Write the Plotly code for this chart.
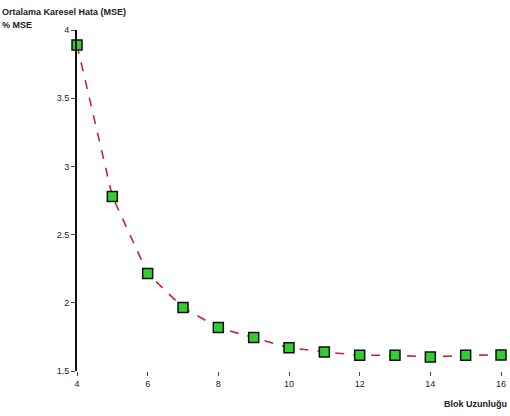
import plotly.graph_objects as go

block_length = [4, 5, 6, 7, 8, 9, 10, 11, 12, 13, 14, 15, 16]
mse = [3.89, 2.78, 2.215, 1.965, 1.818, 1.746, 1.671, 1.640, 1.615, 1.615, 1.603, 1.615, 1.618]
x_ticks = [4, 6, 8, 10, 12, 14, 16]
y_ticks = [1.5, 2, 2.5, 3, 3.5, 4]

fig = go.Figure()
fig.add_trace(go.Scatter(
    x=block_length, y=mse, mode="lines+markers",
    line=dict(color="#c0282d", width=1.6, dash="dash"),
    marker=dict(symbol="square", size=10, color="#33cc33",
                line=dict(color="#111111", width=1.5)),
    cliponaxis=False, showlegend=False,
))

fig.update_layout(
    width=510, height=416,
    margin=dict(l=77, r=9, t=30, b=45),
    paper_bgcolor="white", plot_bgcolor="white",
    font=dict(family="Liberation Sans, Arial, sans-serif", size=9, color="#222"),
    xaxis=dict(range=[4, 16], tickvals=x_ticks, ticktext=[str(v) for v in x_ticks],
               showgrid=False, zeroline=False, showline=False, automargin=False,
               ticklabeloverflow="allow",
               ticks="outside", ticklen=4, tickcolor="#444"),
    yaxis=dict(range=[1.5, 4], tickvals=y_ticks, ticktext=[str(v) for v in y_ticks],
               showgrid=False, zeroline=False, showline=True, linecolor="#111",
               linewidth=2, ticks="outside", ticklen=4, tickcolor="#444"),
    annotations=[
        dict(text="<b>Ortalama Karesel Hata (MSE)</b>", xref="paper", yref="paper",
             x=-77/424, y=1 + 18/341, xanchor="left", yanchor="middle",
             showarrow=False, font=dict(size=9, color="#222")),
        dict(text="<b>% MSE</b>", xref="paper", yref="paper",
             x=-77/424, y=1 + 5/341, xanchor="left", yanchor="middle",
             showarrow=False, font=dict(size=9, color="#222")),
        dict(text="<b>Blok Uzunluğu</b>", xref="paper", yref="paper",
             x=1 + 8/424, y=-33/341, xanchor="right", yanchor="middle",
             showarrow=False, font=dict(size=9, color="#222")),
    ],
)

fig.write_html(
    "out.html",
    config={"displayModeBar": False},
    post_script="document.body.style.margin='0';document.body.style.overflow='hidden';",
)
